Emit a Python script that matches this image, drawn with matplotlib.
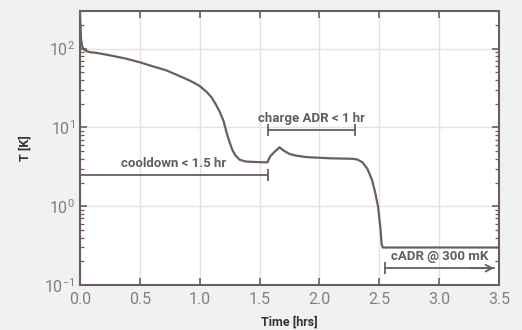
import matplotlib
matplotlib.use('Agg')
import matplotlib.pyplot as plt

plt.rcParams['font.family'] = ['Roboto', 'DejaVu Sans']

# --- data ---
time_hrs = [0.0, 0.005, 0.01, 0.02, 0.04, 0.08, 0.14, 0.25, 0.375, 0.5, 0.6, 0.72,
            0.8, 0.89, 0.95, 1.0, 1.06, 1.1, 1.14, 1.17, 1.2, 1.225, 1.25, 1.275,
            1.3, 1.333, 1.38, 1.44, 1.567, 1.575, 1.59, 1.62, 1.667, 1.7, 1.75,
            1.8, 1.89, 2.1, 2.28, 2.32, 2.36, 2.40, 2.44, 2.47, 2.49, 2.51, 2.52,
            2.53, 2.8, 3.2, 3.5]
temp_K = [300, 200, 130, 105, 95, 90, 88, 82, 75, 67, 60, 53,
          47, 41, 37, 33.5, 28, 24, 19, 15.5, 12, 8.6, 6.5, 5.1,
          4.4, 3.9, 3.7, 3.65, 3.6, 3.9, 4.3, 4.8, 5.6, 5.1, 4.6,
          4.4, 4.2, 4.05, 4.0, 3.9, 3.6, 3.0, 2.15, 1.4, 0.98, 0.52, 0.33,
          0.3, 0.3, 0.3, 0.3]

phase_labels = ['cooldown < 1.5 hr', 'charge ADR < 1 hr', 'cADR @ 300 mK']
phase_start = [0.0, 1.567, 2.55]
phase_end = [1.567, 2.3, 3.46]
phase_level = [2.47, 9.2, 0.164]

line_col = '#6b5f5b'
text_col = '#5f5f5f'

fig = plt.figure(figsize=(5.22, 3.30), dpi=100, facecolor='#f0f1f1')
ax = fig.add_axes([0.153, 0.136, 0.803, 0.831])
ax.set_facecolor('white')

ax.plot(time_hrs, temp_K, color=line_col, lw=1.6)
ax.set_yscale('log')
ax.set_xlim(0, 3.5)
ax.set_ylim(0.1, 300)

ax.grid(True, which='major', color='#e6e2e0', lw=1.0)
ax.tick_params(which='both', direction='in', top=True, right=True, colors=line_col,
               labelcolor='#808080', labelsize=11.5)
ax.tick_params(which='major', length=5, width=1.2)
ax.tick_params(which='minor', length=3, width=0.9)
ax.tick_params(axis='x', pad=5)
for s in ax.spines.values():
    s.set_color(line_col)
    s.set_linewidth(1.5)

ax.set_xlabel('Time [hrs]', fontsize=9, fontweight='bold', color='#333333', labelpad=6)
ax.set_ylabel('T [K]', fontsize=9, fontweight='bold', color='#333333', labelpad=9)

# --- phase annotations ---
# bars
for x0, x1, lv in zip(phase_start, phase_end, phase_level):
    ax.plot([x0, x1], [lv, lv], color=line_col, lw=1.3)
# end caps
caps_x = [phase_end[0], phase_start[1], phase_end[1], phase_start[2]]
caps_y = [phase_level[0], phase_level[1], phase_level[1], phase_level[2]]
ax.plot(caps_x, caps_y, ls='none', marker='|', ms=9, mew=1.3, color=line_col)
# arrow head for the last phase
ax.annotate('', xy=(phase_end[2], phase_level[2]), xytext=(phase_end[2] - 0.2, phase_level[2]),
            arrowprops=dict(arrowstyle='->', color=line_col, lw=1.3,
                            shrinkA=0, shrinkB=0, mutation_scale=12))

for lab, x0, x1, lv in zip(phase_labels, phase_start, phase_end, phase_level):
    ax.text((x0 + x1) / 2, lv * 1.18, lab, ha='center', va='bottom',
            fontsize=9.5, fontweight='semibold', color=text_col)

fig.savefig('out.png', dpi=100, facecolor=fig.get_facecolor())
